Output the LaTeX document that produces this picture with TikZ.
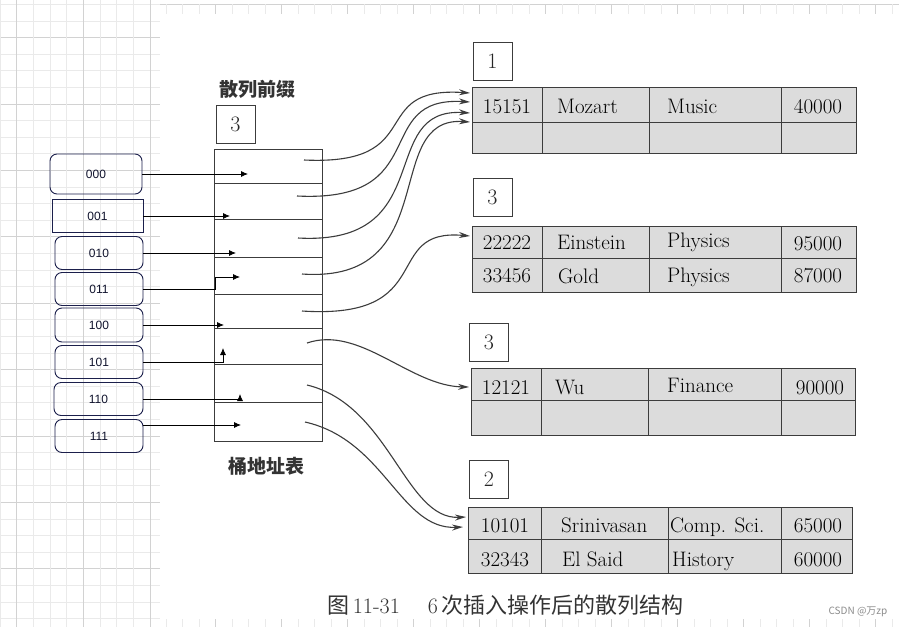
\documentclass[tikz,border=0pt]{standalone}
\usepackage{fontspec}
\newfontfamily\cjk{Noto Sans CJK SC}
\newfontfamily\keyfont{Liberation Sans}
\usetikzlibrary{arrows.meta}

\definecolor{navy}{HTML}{1B1F4B}
\definecolor{scan}{HTML}{3C3C3C}
\definecolor{cellgray}{HTML}{DCDCDC}
\definecolor{gridminor}{HTML}{EAEAEA}
\definecolor{gridmajor}{HTML}{D2D2D2}

\begin{document}
\begin{tikzpicture} [x=1pt, y=-1pt,
				keybox/.style={
				% The shape:
				rectangle, rounded corners=7pt,
				% The size:
      				minimum width=88pt, minimum height=33pt,
				% The border:
     				 draw=navy, line width=0.9pt,
				% Font
				font=\keyfont\fontsize{12}{14}\selectfont, text=navy!60!black
    				},
				labelbox/.style={
				% The shape:
				rectangle,
				% The size:
      				minimum width=39pt, minimum height=38pt,
				% The border:
     				 draw=scan, line width=0.9pt,
				% Font
				font=\fontsize{22}{24}\selectfont, text=black!85
    				},
				bucket/.style={
				% The shape:
				rectangle, anchor=north west,
				% The border:
     				 draw=scan, line width=1pt,
      				% The filling:
				fill=cellgray
    				},
				scanline/.style={draw=scan, line width=1pt},
				rec/.style={inner sep=0pt, text=black, font=\fontsize{21}{24}\selectfont},
				cntitle/.style={inner sep=0pt, text=black!80, font=\cjk\bfseries\fontsize{19}{22}\selectfont},
				keyarrow/.style={draw=black, line width=0.8pt, -{Latex[length=7pt,width=6pt]}},
				ptrarrow/.style={draw=scan, line width=1.1pt, -{Stealth[length=11pt,width=6pt]}},
				]
    % page and background grid
    \fill[white] (0,0) rectangle (899,627);
    \useasboundingbox (0,0) rectangle (899,627);
    \foreach \j in {0,...,37} {
        \pgfmathparse{mod(\j,4)==2 ? "gridmajor" : "gridminor"}
        \draw[\pgfmathresult, line width=0.8pt] (0,4.3+16.6*\j) -- (160,4.3+16.6*\j);
    }
    \foreach \i in {0,...,9} {
        \pgfmathparse{mod(\i,4)==1 ? "gridmajor" : "gridminor"}
        \draw[\pgfmathresult, line width=0.8pt] (16.67*\i,0) -- (16.67*\i,627);
    }
    % rulers
    \draw[gridmajor, line width=0.8pt] (160,4.3) -- (899,4.3);
    \foreach \k in {0,...,44} {
        \pgfmathparse{mod(\k,4)==3 ? "gridmajor" : "gridminor"}
        \draw[\pgfmathresult, line width=0.8pt] (166.2+16.5*\k,4.3) -- (166.2+16.5*\k,13.5);
        \draw[\pgfmathresult, line width=0.8pt] (166.2+16.5*\k,619) -- (166.2+16.5*\k,627);
    }

    % hash keys
    \node [keybox, minimum width=92pt, minimum height=40pt] (k000) at (96,174) {000};
    \node [keybox, rounded corners=0pt, minimum width=91pt] (k001) at (97.5,216) {001};
    \node [keybox] (k010) at (99,253) {010};
    \node [keybox] (k011) at (99,289) {011};
    \node [keybox, minimum height=34pt] (k100) at (99,325) {100};
    \node [keybox] (k101) at (99,362) {101};
    \node [keybox, minimum width=89pt] (k110) at (98.5,399) {110};
    \node [keybox] (k111) at (99,436) {111};

    % bucket address table
    \node [cntitle] (prefixtitle) at (257,89) {散列前缀};
    \node [labelbox] (prefix) at (235.5,124) {3};
    \node [rectangle, anchor=north west, draw=scan, line width=1pt,
           minimum width=108pt, minimum height=292pt] (addr) at (214,149) {};
    \foreach \y in {183,219,257,294,328,364,402}
        \draw[scanline] (214,\y) -- (322,\y);
    \node [cntitle] (addrtitle) at (266,466) {桶地址表};

    \coordinate (a000) at (248,174);
    \coordinate (a001) at (230,216);
    \coordinate (a010) at (236,253);
    \coordinate (p011) at (215,277);
    \coordinate (a011) at (240,277);
    \coordinate (a100) at (224,325);
    \coordinate (a101) at (223,348);
    \coordinate (a110) at (240,394);
    \coordinate (a111) at (241,425);

    \draw[keyarrow] (k000) -- (a000);
    \draw[keyarrow] (k001) -- (a001);
    \draw[keyarrow] (k010) -- (a010);
    \draw[keyarrow] (k011.east) -| (p011) -- (a011);
    \draw[keyarrow] (k100) -- (a100);
    \draw[keyarrow] (k101.east) -| (a101);
    \draw[keyarrow] (k110.east) -| (a110);
    \draw[keyarrow] (k111.east |- a111) -- (a111);

    % bucket 1
    \node [labelbox] (n1) at (492.5,61.5) {1};
    \node [bucket, minimum width=384pt, minimum height=66pt] (b1) at (472,87) {};
    \draw[scanline] (472,122) -- (856,122);
    \foreach \x in {542,649,781} \draw[scanline] (\x,87) -- (\x,153);
    \node [rec, anchor=base] (r1id) at (507,113) {15151};
    \node [rec, anchor=base west] (r1name) at (557,113) {Mozart};
    \node [rec, anchor=base west] (r1dept) at (667,113) {Music};
    \node [rec, anchor=base] (r1sal) at (818,113) {40000};

    % bucket 2
    \node [labelbox] (n2) at (492.5,197.5) {3};
    \node [bucket, minimum width=384pt, minimum height=66pt] (b2) at (472,226) {};
    \draw[scanline] (472,258) -- (856,258);
    \foreach \x in {542,649,781} \draw[scanline] (\x,226) -- (\x,292);
    \node [rec, anchor=base] (r2id) at (507,249) {22222};
    \node [rec, anchor=base west] (r2name) at (557,249) {Einstein};
    \node [rec, anchor=base west] (r2dept) at (667,247) {Physics};
    \node [rec, anchor=base] (r2sal) at (818,250) {95000};
    \node [rec, anchor=base] (r3id) at (507,282) {33456};
    \node [rec, anchor=base west] (r3name) at (558,283) {Gold};
    \node [rec, anchor=base west] (r3dept) at (667,282) {Physics};
    \node [rec, anchor=base] (r3sal) at (818,282) {87000};

    % bucket 3
    \node [labelbox] (n3) at (489,342.5) {3};
    \node [bucket, minimum width=384pt, minimum height=67pt] (b3) at (471,368) {};
    \draw[scanline] (471,400) -- (855,400);
    \foreach \x in {541,648,781} \draw[scanline] (\x,368) -- (\x,435);
    \node [rec, anchor=base] (r4id) at (506,394) {12121};
    \node [rec, anchor=base west] (r4name) at (555,394) {Wu};
    \node [rec, anchor=base west] (r4dept) at (667,392) {Finance};
    \node [rec, anchor=base] (r4sal) at (820,394) {90000};

    % bucket 4
    \node [labelbox] (n4) at (489,479.5) {2};
    \node [bucket, minimum width=384pt, minimum height=66pt] (b4) at (468,507) {};
    \draw[scanline] (468,539) -- (852,539);
    \foreach \x in {541,668,781} \draw[scanline] (\x,507) -- (\x,573);
    \node [rec, anchor=base] (r5id) at (505,532) {10101};
    \node [rec, anchor=base west] (r5name) at (561,532) {Srinivasan};
    \node [rec, anchor=base west] (r5dept) at (670,532) {Comp. Sci.};
    \node [rec, anchor=base] (r5sal) at (818,532) {65000};
    \node [rec, anchor=base] (r6id) at (505,566) {32343};
    \node [rec, anchor=base west] (r6name) at (562,566) {El Said};
    \node [rec, anchor=base west] (r6dept) at (672,566) {History};
    \node [rec, anchor=base] (r6sal) at (818,566) {60000};

    % pointers from the address table
    \coordinate (s1) at (304,160);  \coordinate (e1) at (470,93);
    \coordinate (s2) at (297,196);  \coordinate (e2) at (470,102);
    \coordinate (s3) at (298,238);  \coordinate (e3) at (470,113);
    \coordinate (s4) at (302,274);  \coordinate (e4) at (470,122);
    \coordinate (s5) at (302,311);  \coordinate (e5) at (470,236);
    \coordinate (s6) at (307,343);  \coordinate (e6) at (469,387);
    \coordinate (s7) at (307,385);  \coordinate (e7) at (466,517);
    \coordinate (s8) at (305,422);  \coordinate (e8) at (463,527);

    \draw[ptrarrow] (s1) .. controls (430,166) and (365,86) .. (e1);
    \draw[ptrarrow] (s2) .. controls (435,203) and (370,96) .. (e2);
    \draw[ptrarrow] (s3) .. controls (440,246) and (375,107) .. (e3);
    \draw[ptrarrow] (s4) .. controls (445,284) and (380,116) .. (e4);
    \draw[ptrarrow] (s5) .. controls (440,320) and (380,228) .. (e5);
    \draw[ptrarrow] (s6) .. controls (360,325) and (410,386) .. (e6);
    \draw[ptrarrow] (s7) .. controls (390,405) and (405,520) .. (e7);
    \draw[ptrarrow] (s8) .. controls (385,440) and (400,530) .. (e8);

    % caption
    \node [anchor=west, inner sep=0pt, text=black!80, font=\fontsize{22}{24}\selectfont] (caption) at (327,605)
        {{\cjk 图}\,11-31\hspace{28pt}6\,{\cjk 次插入操作后的散列结构}};
    \node [inner sep=0pt, text=black!45, font=\cjk\fontsize{10}{12}\selectfont] (mark) at (858,612) {CSDN @万zp};
\end{tikzpicture}
\end{document}
